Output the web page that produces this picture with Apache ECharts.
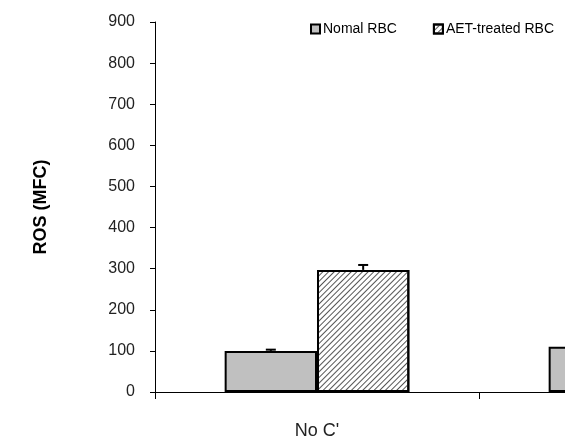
<!DOCTYPE html>
<html><head><meta charset="utf-8">
<script src="https://cdn.jsdelivr.net/npm/echarts@6/dist/echarts.min.js"></script>
<style>html,body{margin:0;padding:0;background:#fff}#c{width:565px;height:438px}</style>
</head><body><div id="c"></div>
<script>
var categories = ["No C'", "C'"];
var normalValues = [100, 110];
var normalErrors = [3, 4];
var aetValues = [297, null];
var aetErrors = [12, null];
var yTicks = [0, 100, 200, 300, 400, 500, 600, 700, 800, 900];
var seriesNames = ['Nomal RBC', 'AET-treated RBC'];

var chart = echarts.init(document.getElementById('c'));
var FONT = 'Liberation Sans, Arial, sans-serif';

function errSeries(vals, errs, side) {
  var data = [];
  for (var i = 0; i < vals.length; i++) {
    if (vals[i] != null) data.push([i, vals[i], errs[i]]);
  }
  return {
    type: 'custom',
    silent: true,
    z: 10,
    data: data,
    renderItem: function (params, api) {
      var ci = api.value(0), v = api.value(1), e = api.value(2);
      var bw = api.size([1, 0])[0] * 0.57 / 2;
      var base = api.coord([ci, v]);
      var x = base[0] + side * bw / 2;
      var top = api.coord([ci, v + e])[1];
      var y0 = base[1];
      return {
        type: 'group',
        children: [
          { type: 'line', shape: { x1: x, y1: y0, x2: x, y2: top }, style: { stroke: '#000', lineWidth: 2 } },
          { type: 'line', shape: { x1: x - 5, y1: top, x2: x + 5, y2: top }, style: { stroke: '#000', lineWidth: 2 } }
        ]
      };
    }
  };
}

chart.setOption({
  animation: false,
  backgroundColor: '#fff',
  grid: { left: 155, top: 22, bottom: 46, right: -238, containLabel: false, outerBoundsMode: 'none' },
  legend: {
    left: 305, top: 17,
    icon: 'rect',
    itemWidth: 9, itemHeight: 9, itemGap: 36,
    textStyle: { fontFamily: FONT, fontSize: 14, color: '#000', padding: [0, 0, 0, -2] },
    data: seriesNames
  },
  xAxis: {
    type: 'category',
    data: categories,
    axisLine: { lineStyle: { color: '#000', width: 1 } },
    axisTick: { show: true, length: 7, inside: false, lineStyle: { color: '#000' } },
    axisLabel: { fontFamily: FONT, fontSize: 18, color: '#222', margin: 30 }
  },
  yAxis: {
    type: 'value',
    min: 0, max: 900, interval: 100,
    name: 'ROS (MFC)',
    nameLocation: 'middle',
    nameGap: 105,
    nameTextStyle: { fontFamily: FONT, fontSize: 18, fontWeight: 'bold', color: '#000' },
    axisLine: { show: true, lineStyle: { color: '#000', width: 1 } },
    axisTick: { show: true, length: 5, lineStyle: { color: '#000' } },
    splitLine: { show: false },
    axisLabel: {
      fontFamily: FONT, fontSize: 16, color: '#222', margin: 20,
      formatter: function (v) { return yTicks.indexOf(v) >= 0 ? String(v) : ''; }
    }
  },
  series: [
    {
      name: seriesNames[0], type: 'bar', data: normalValues,
      barGap: '0%', barCategoryGap: '43%',
      itemStyle: { color: '#c0c0c0', borderColor: '#000', borderWidth: 2 }
    },
    {
      name: seriesNames[1], type: 'bar', data: aetValues,
      barGap: '0%', barCategoryGap: '43%',
      itemStyle: {
        color: '#fff', borderColor: '#000', borderWidth: 2,
        decal: { symbol: 'rect', symbolSize: 1, color: '#555', dashArrayX: [1, 0], dashArrayY: [1, 2.6], rotation: -Math.PI / 4 }
      }
    },
    errSeries(normalValues, normalErrors, -1),
    errSeries(aetValues, aetErrors, 1)
  ]
});
</script>
</body></html>
